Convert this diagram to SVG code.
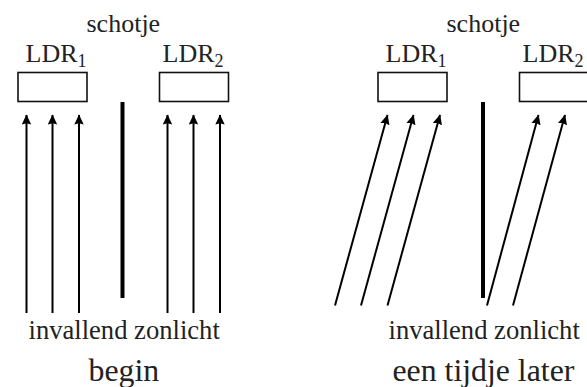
<svg xmlns="http://www.w3.org/2000/svg" width="587" height="387" viewBox="0 0 587 387">
<style>
text{font-family:"Liberation Serif","Times New Roman",serif;fill:#222;font-size:26px}
.big{font-size:31.8px}
.cap{font-size:26.6px}
.sub{font-size:18px}
.ldr{fill:#fff;stroke:#111;stroke-width:1.6}
.ray{stroke:#000;stroke-width:2;fill:none;marker-end:url(#a)}
.bar{fill:#000}
</style>
<defs>
<marker id="a" markerUnits="userSpaceOnUse" markerWidth="11" markerHeight="11" refX="9.500" refY="5" orient="auto">
<path d="M0 0.300L10 5L0 9.700L1.200 5Z" fill="#000"/>
</marker>
</defs>
<rect width="587" height="387" fill="#fff"/>
<g id="connectors">
<path class="ray" d="M26.500 313V115"/>
<path class="ray" d="M52.500 313V115"/>
<path class="ray" d="M79 313V115"/>
<path class="ray" d="M167.500 313V115"/>
<path class="ray" d="M193.500 313V115"/>
<path class="ray" d="M220 313V115"/>
<path class="ray" d="M335 305.500L387.500 115"/>
<path class="ray" d="M361 305.500L413.500 115"/>
<path class="ray" d="M387.500 305.500L440 115"/>
<path class="ray" d="M487 305.500L538.500 115"/>
<path class="ray" d="M513 305.500L565 115"/>
</g>
<g id="left-ldr1"><rect class="ldr" x="18" y="72.500" width="69" height="29"/><text x="25.500" y="62">LDR<tspan class="sub" dy="5">1</tspan></text></g>
<g id="left-ldr2"><rect class="ldr" x="159.500" y="72.500" width="69" height="29"/><text x="162.500" y="62">LDR<tspan class="sub" dy="5">2</tspan></text></g>
<g id="left-schotje"><rect class="bar" x="120.500" y="102" width="4" height="196"/><text x="86.500" y="32">schotje</text></g>
<g id="left-captions"><text class="cap" x="28.500" y="339">invallend zonlicht</text><text class="big" x="88.500" y="381">begin</text></g>
<g id="right-ldr1"><rect class="ldr" x="378" y="72.500" width="69" height="29"/><text x="385.500" y="62">LDR<tspan class="sub" dy="5">1</tspan></text></g>
<g id="right-ldr2"><rect class="ldr" x="519.500" y="72.500" width="69" height="29"/><text x="522.500" y="62">LDR<tspan class="sub" dy="5">2</tspan></text></g>
<g id="right-schotje"><rect class="bar" x="481" y="102" width="4" height="196"/><text x="446.500" y="32">schotje</text></g>
<g id="right-captions"><text class="cap" x="388.500" y="339">invallend zonlicht</text><text class="big" x="392.500" y="381">een tijdje later</text></g>
</svg>
